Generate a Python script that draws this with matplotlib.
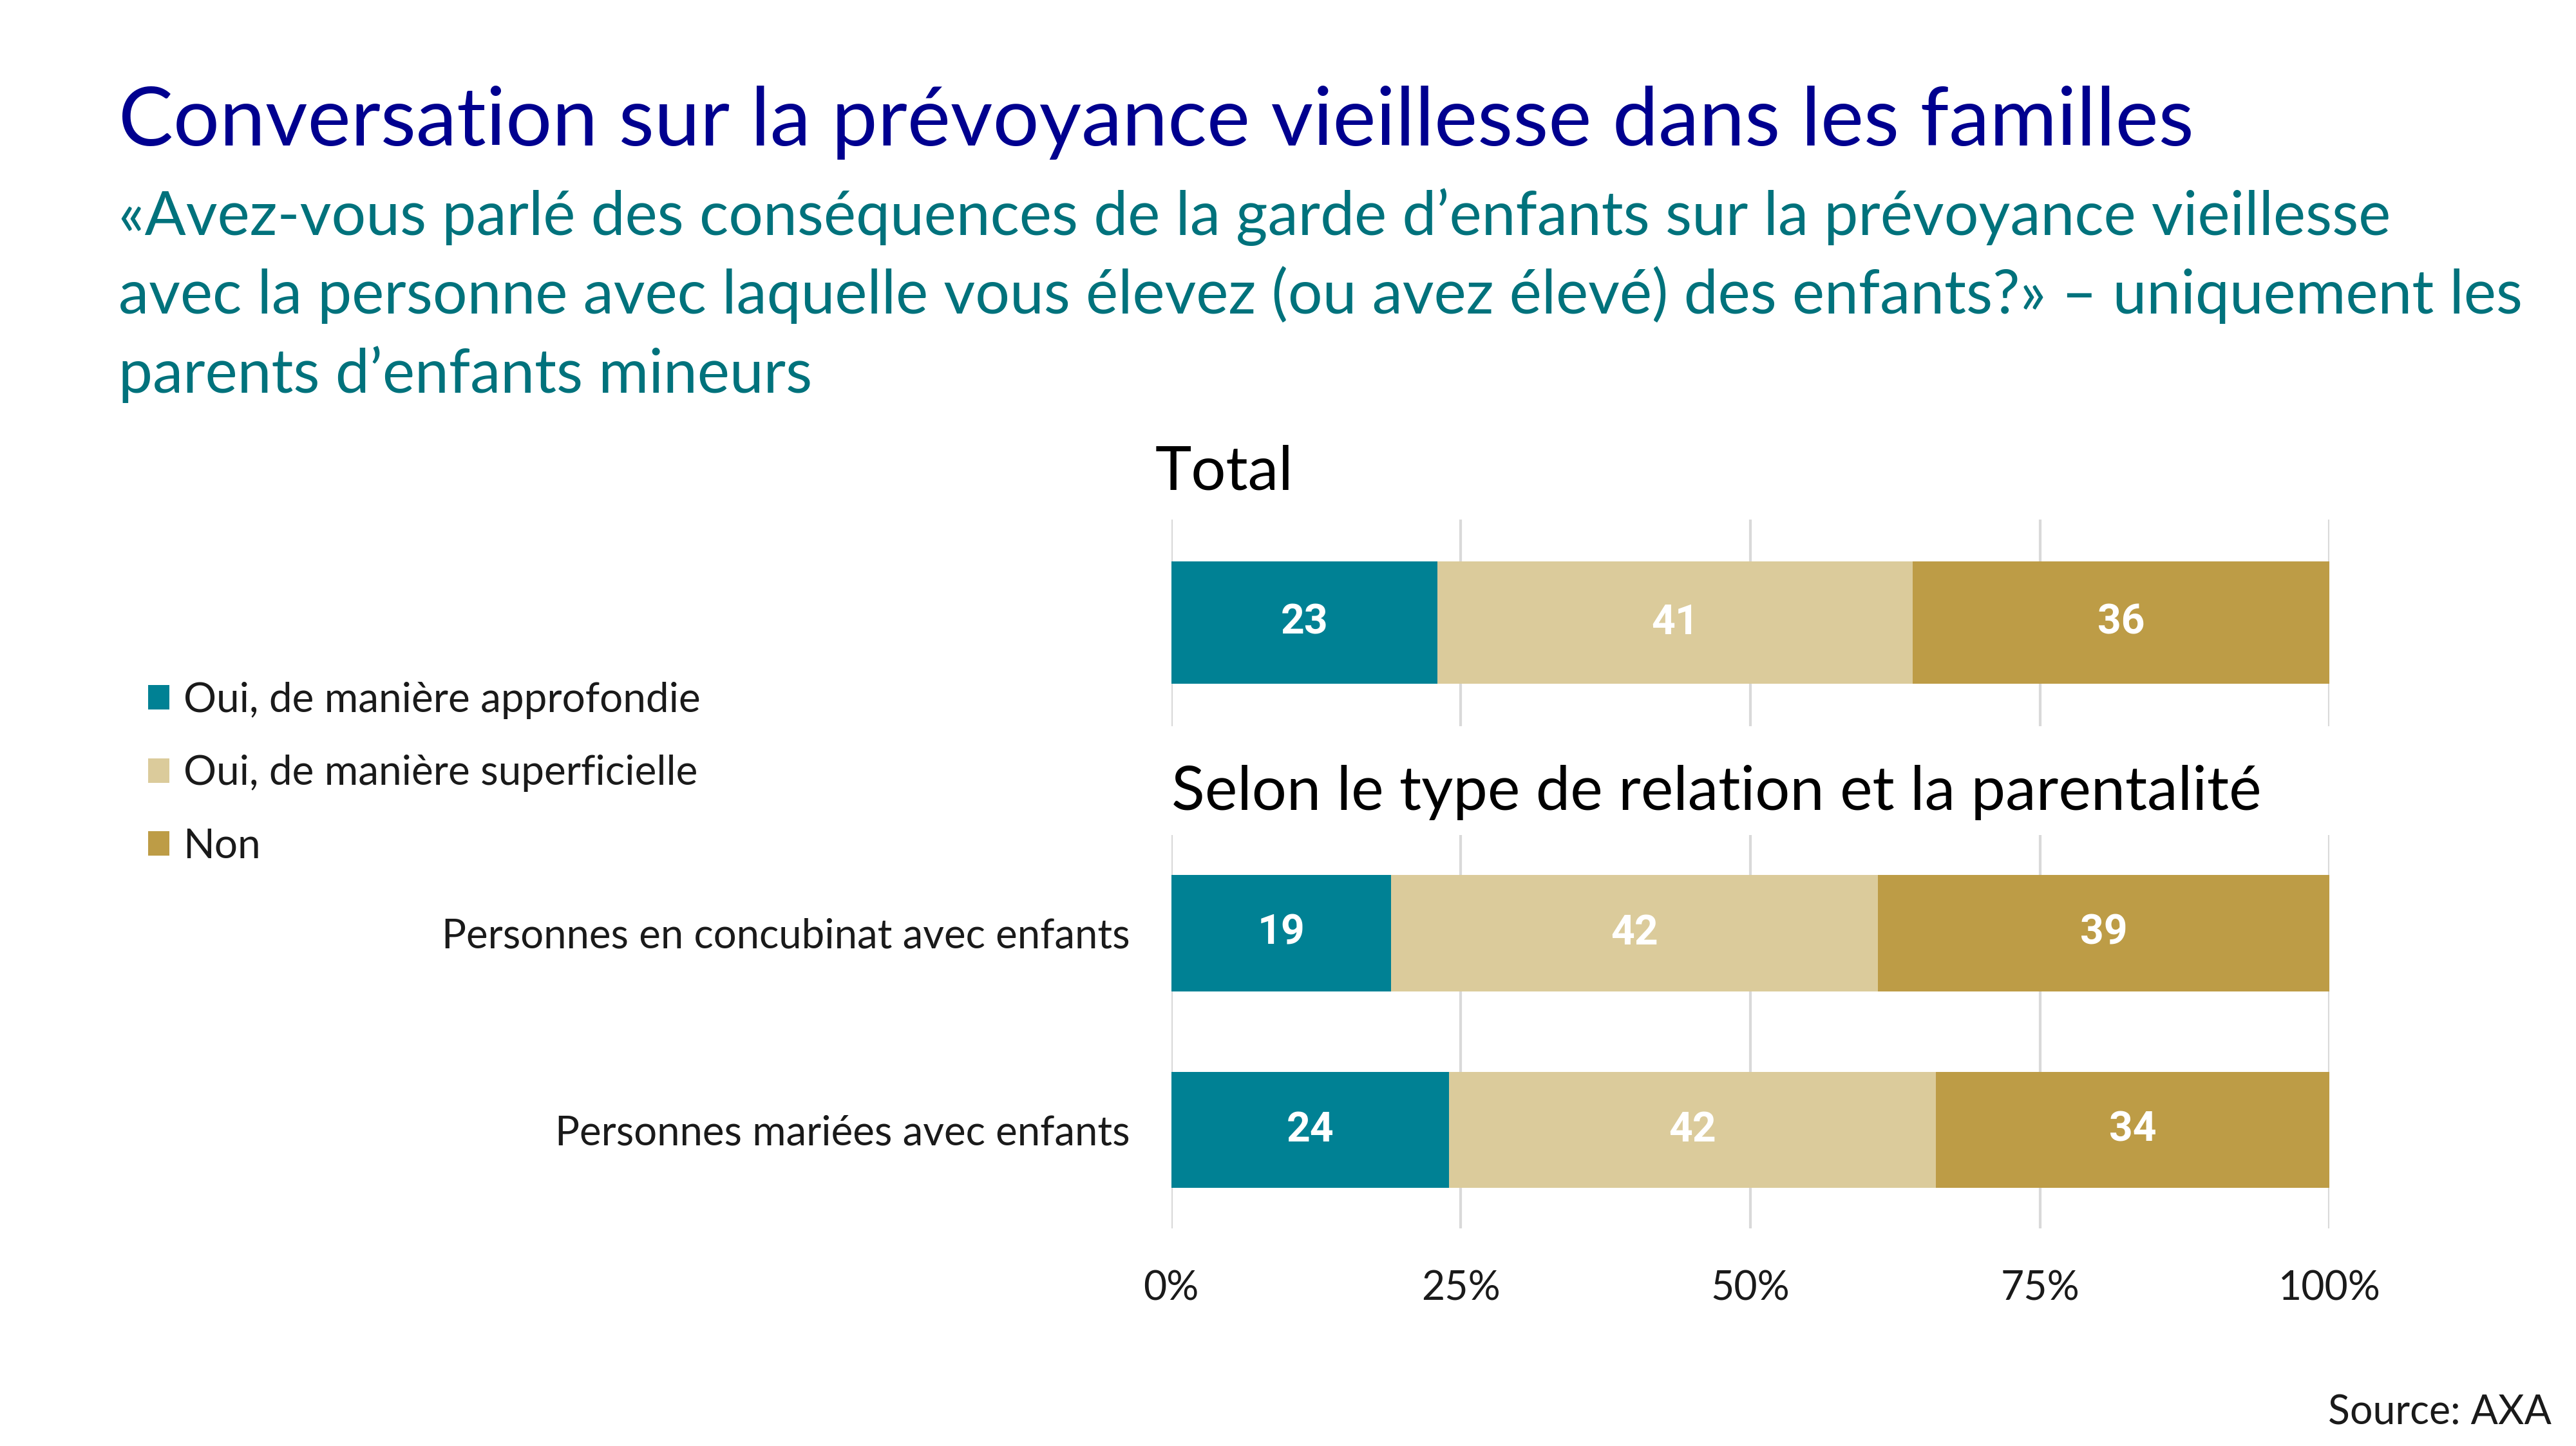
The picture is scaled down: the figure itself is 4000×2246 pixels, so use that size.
# Stacked horizontal bars: discussion of old-age provision between parents (AXA survey)
import numpy as np
import matplotlib
matplotlib.use("Agg")
import matplotlib.pyplot as plt

plt.rcParams["font.family"] = ["Lato", "DejaVu Sans"]

# --- data -------------------------------------------------------------------
series_names = ["Oui, de manière approfondie",
                "Oui, de manière superficielle",
                "Non"]
total_categories = ["Total"]
total_values = [[23], [41], [36]]

# bottom-to-top order
group_categories = ["Personnes mariées avec enfants",
                    "Personnes en concubinat avec enfants"]
group_values = [[24, 19], [42, 42], [34, 39]]

x_ticks = [0, 25, 50, 75, 100]
x_tick_labels = ["0%", "25%", "50%", "75%", "100%"]

title = "Conversation sur la prévoyance vieillesse dans les familles"
subtitle_lines = [
    "«Avez-vous parlé des conséquences de la garde d’enfants sur la prévoyance vieillesse",
    "avec la personne avec laquelle vous élevez (ou avez élevé) des enfants?» – uniquement les",
    "parents d’enfants mineurs",
]

TEAL = "#008194"
TAN = "#DBCB9B"
GOLD = "#BD9C46"
colors = [TEAL, TAN, GOLD]
GRID = "#D9D9D9"
TEXT = "#1A1A1A"
BAR_H = 0.59


def draw_stack(ax, categories, values):
    y = np.arange(len(categories))
    left = np.zeros(len(categories))
    for name, vals, col in zip(series_names, values, colors):
        vals = np.array(vals, dtype=float)
        bars = ax.barh(y, vals, left=left, height=BAR_H, color=col,
                       label=name, zorder=2)
        ax.bar_label(bars, labels=[f"{v:.0f}" for v in vals],
                     label_type="center", color="white",
                     fontsize=18.5, fontweight="bold",
                     family=["Roboto", "DejaVu Sans"])
        left += vals
    ax.set_xlim(0, 100)
    ax.set_ylim(-0.5, len(categories) - 0.5)
    ax.set_xticks(x_ticks)
    ax.grid(axis="x", color=GRID, linewidth=1.2, zorder=0)
    ax.set_axisbelow(True)
    for s in ax.spines.values():
        s.set_visible(False)
    ax.tick_params(length=0)


fig = plt.figure(figsize=(16, 8.984), dpi=250)

ax_top = fig.add_axes([0.4547, 0.4977, 0.4496, 0.1432])
ax_bot = fig.add_axes([0.4547, 0.1505, 0.4496, 0.2722])

draw_stack(ax_top, total_categories, total_values)
ax_top.set_yticks([])
ax_top.set_xticklabels([])

draw_stack(ax_bot, group_categories, group_values)
ax_bot.set_yticks(np.arange(len(group_categories)))
ax_bot.set_yticklabels(group_categories, fontsize=18.3, color=TEXT)
ax_bot.tick_params(axis="y", pad=18.5)
ax_bot.set_xticklabels(x_tick_labels, fontsize=18, color=TEXT)
ax_bot.tick_params(axis="x", pad=18.5)

# titles
fig.text(0.0459, 0.8994, title, fontsize=36.6, color="#00008F", va="baseline")
for i, line in enumerate(subtitle_lines):
    fig.text(0.0459, 0.8375 - i * 0.0545, line, fontsize=27.3,
             color="#00727C", va="baseline")

fig.text(0.4483, 0.6614, "Total", fontsize=27.5, color="black", va="baseline")
fig.text(0.4547, 0.4398, "Selon le type de relation et la parentalité",
         fontsize=27.5, color="black", va="baseline")

handles, labels = ax_top.get_legend_handles_labels()
fig.legend(handles, labels, loc="upper left", bbox_to_anchor=(0.0574, 0.5286),
           frameon=False, fontsize=18.4, handlelength=0.53, handleheight=0.53,
           handletextpad=0.33, labelspacing=0.87, borderpad=0, borderaxespad=0,
           labelcolor=TEXT)

fig.text(0.9904, 0.015, "Source: AXA", fontsize=18, color=TEXT,
         ha="right", va="baseline")

fig.savefig("out.png", dpi=250, facecolor="white")
